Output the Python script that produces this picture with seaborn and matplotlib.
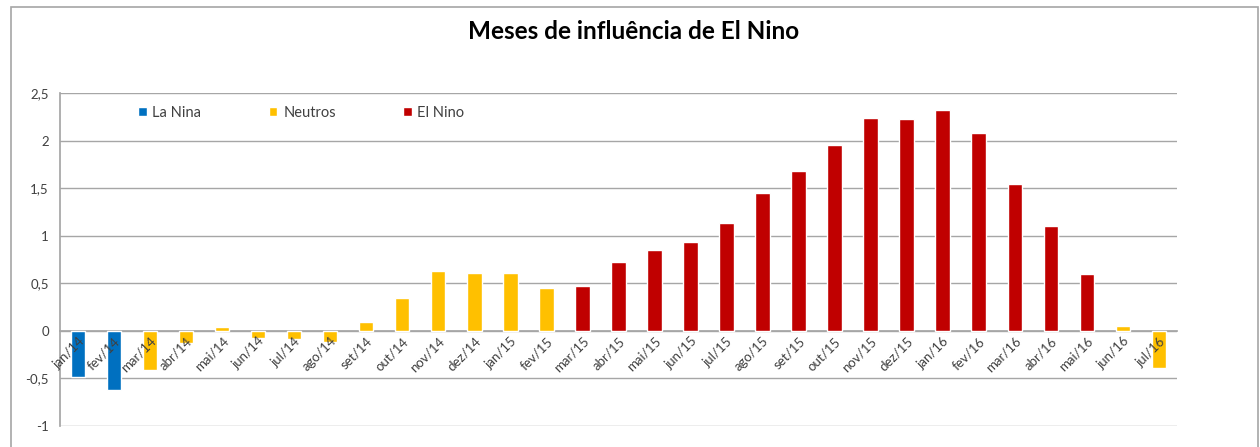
"""
Meses de influência de El Nino: índice mensal jan/14 a jul/16 colorido por fase.
"""

import matplotlib.pyplot as plt
import numpy as np
import pandas as pd
import seaborn as sns
from matplotlib.patches import Rectangle

MESES = [
    "jan/14", "fev/14", "mar/14", "abr/14", "mai/14", "jun/14", "jul/14", "ago/14",
    "set/14", "out/14", "nov/14", "dez/14", "jan/15", "fev/15", "mar/15", "abr/15",
    "mai/15", "jun/15", "jul/15", "ago/15", "set/15", "out/15", "nov/15", "dez/15",
    "jan/16", "fev/16", "mar/16", "abr/16", "mai/16", "jun/16", "jul/16",
]

VALORES = [
    -0.48, -0.62, -0.41, -0.13, 0.04, -0.07, -0.09, -0.12,
    0.09, 0.34, 0.63, 0.61, 0.61, 0.45, 0.47, 0.72,
    0.85, 0.93, 1.13, 1.45, 1.68, 1.95, 2.24, 2.23,
    2.32, 2.08, 1.54, 1.10, 0.60, 0.05, -0.39,
]

FASES = (
    ["La Nina"] * 2
    + ["Neutros"] * 12
    + ["El Nino"] * 15
    + ["Neutros"] * 2
)

FASE_ORDEM = ["La Nina", "Neutros", "El Nino"]
CORES = {"La Nina": "#0070C0", "Neutros": "#FFC000", "El Nino": "#C00000"}

Y_TICKS = [-1, -0.5, 0, 0.5, 1, 1.5, 2, 2.5]


def fmt_br(v):
    s = f"{v:g}"
    return s.replace(".", ",")


def main():
    df = pd.DataFrame({"mes": MESES, "valor": VALORES, "fase": FASES})

    sns.set_theme(style="white")
    plt.rcParams["font.family"] = ["Lato", "DejaVu Sans"]

    fig = plt.figure(figsize=(12.6, 4.47), dpi=100)
    ax = fig.add_axes([0.0476, 0.047, 0.934 - 0.0476, 0.792 - 0.047])

    sns.barplot(
        data=df, x="mes", y="valor", hue="fase", hue_order=FASE_ORDEM,
        palette=CORES, dodge=False, width=0.4, order=MESES,
        saturation=1, ax=ax,
    )

    ax.set_ylim(-1, 2.5)
    ax.set_xlim(-0.5, len(MESES) - 0.5)
    ax.set_yticks(Y_TICKS)
    ax.set_yticklabels([fmt_br(v) for v in Y_TICKS], fontsize=9.5, color="#404040")
    ax.yaxis.grid(True, color="#A6A6A6", linewidth=1)
    ax.set_axisbelow(True)
    # rótulos das categorias por cima das barras, grade por baixo
    ax.xaxis.set_zorder(5)
    ax.set_xlabel("")
    ax.set_ylabel("")

    # eixo de categorias na linha do zero, como no Excel
    for side in ["top", "right"]:
        ax.spines[side].set_visible(False)
    ax.spines["left"].set_color("#A6A6A6")
    ax.spines["bottom"].set_position(("data", 0))
    ax.spines["bottom"].set_color("#A6A6A6")
    ax.spines["bottom"].set_zorder(0.6)
    ax.tick_params(axis="both", length=0, pad=8)
    ax.tick_params(axis="x", pad=3)
    for lbl in ax.get_xticklabels():
        lbl.set_rotation(45)
        lbl.set_ha("right")
        lbl.set_va("top")
        lbl.set_rotation_mode("anchor")
        lbl.set_fontsize(9.5)
        lbl.set_color("#404040")

    ax.legend(
        loc="center left", bbox_to_anchor=(0.058, 0.94), ncol=3, frameon=False,
        fontsize=10.5, handlelength=0.6, handleheight=0.6, handletextpad=0.4,
        columnspacing=4.6, labelcolor="#404040",
    )

    fig.text(0.503, 0.93, "Meses de influência de El Nino", ha="center",
             va="center", fontsize=17.5, fontweight="bold", color="black")

    # moldura da área do gráfico
    fig.patches.append(Rectangle((11 / 1260, -0.05), (1258 - 11) / 1260, 1.05 - 7 / 447,
                                 transform=fig.transFigure, fill=False,
                                 edgecolor="#A6A6A6", linewidth=1.2))

    fig.savefig("out.png", dpi=100, facecolor="white")
    plt.close(fig)


if __name__ == "__main__":
    main()
